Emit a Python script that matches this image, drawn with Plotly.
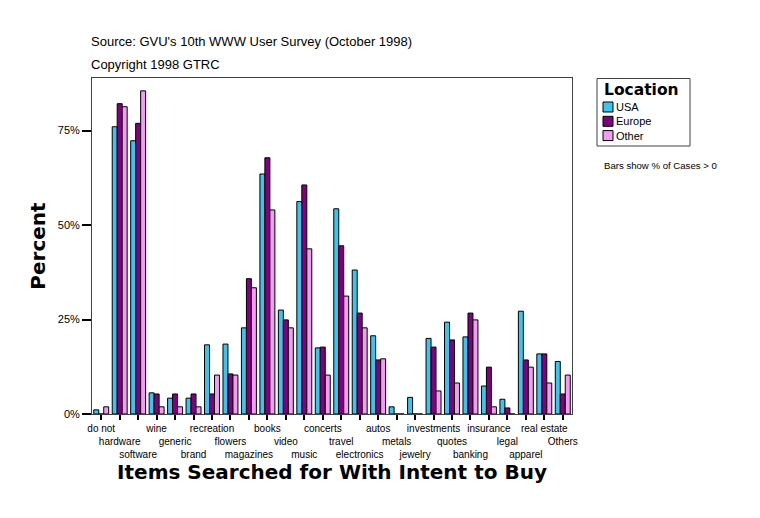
import plotly.graph_objects as go

categories = ["do not", "hardware", "software", "wine", "generic", "brand",
              "recreation", "flowers", "magazines", "books", "video", "music",
              "concerts", "travel", "electronics", "autos", "metals", "jewelry",
              "investments", "quotes", "banking", "insurance", "legal", "apparel",
              "real estate", "Others"]

usa = [1.1, 76.0, 72.3, 5.6, 4.2, 4.2, 18.3, 18.5, 22.8, 63.5, 27.5, 56.2,
       17.5, 54.3, 38.1, 20.7, 1.9, 4.4, 20.0, 24.3, 20.4, 7.4, 3.9, 27.2,
       15.9, 13.9]
europe = [0, 82.1, 76.9, 5.3, 5.3, 5.3, 5.3, 10.6, 35.8, 67.8, 24.9, 60.6,
          17.7, 44.5, 26.7, 14.3, 0, 0, 17.7, 19.6, 26.7, 12.4, 1.6, 14.3,
          15.9, 5.3]
other = [1.9, 81.3, 85.5, 1.9, 1.9, 1.9, 10.3, 10.3, 33.4, 54.0, 22.8, 43.7,
         10.3, 31.2, 22.8, 14.6, 0, 0, 6.1, 8.2, 24.9, 1.9, 0, 12.4, 8.2, 10.3]

series_names = ["USA", "Europe", "Other"]
series_colors = ["#3EC3EF", "#800080", "#F29CF2"]
y_ticks = [0, 25, 50, 75]
y_tick_text = [f"{v}%" for v in y_ticks]

# staggered three-row tick labels
tick_text = [("<br>" * (i % 3)) + c for i, c in enumerate(categories)]

# plot-area geometry in page pixels (page has an 8px body margin)
PL, PR, PT, PB = 92, 572, 78, 414
PW, PH = PR - PL, PB - PT


def px(x):
    return (x - PL) / PW


def py(y):
    return (PB - y) / PH


fig = go.Figure()
for name, vals, col in zip(series_names, [usa, europe, other], series_colors):
    fig.add_trace(go.Bar(
        x=categories, y=vals, name=name,
        marker=dict(color=col, line=dict(color="black", width=1)),
    ))

shapes = [dict(type="rect", xref="paper", yref="paper",
               x0=px(597), x1=px(690), y0=py(146), y1=py(78.5),
               line=dict(color="#404040", width=1), fillcolor="white", layer="above")]
annotations = [
    dict(text="<b>Location</b>", xref="paper", yref="paper",
         x=px(602), y=py(90), xanchor="left", yanchor="middle", showarrow=False,
         font=dict(family="DejaVu Sans", size=15.5, color="black")),
]
for i, (name, col) in enumerate(zip(series_names, series_colors)):
    yc = 107 + i * 14.3
    shapes.append(dict(type="rect", xref="paper", yref="paper",
                       x0=px(603), x1=px(613), y0=py(yc + 5), y1=py(yc - 5),
                       line=dict(color="black", width=1), fillcolor=col, layer="above"))
    annotations.append(dict(text=name, xref="paper", yref="paper",
                            x=px(614), y=py(yc), xanchor="left", yanchor="middle",
                            showarrow=False, font=dict(size=11)))

annotations += [
    dict(text="Source: GVU's 10th WWW User Survey (October 1998)",
         xref="paper", yref="paper", x=px(89), y=py(41.7),
         xanchor="left", yanchor="middle", showarrow=False, font=dict(size=13)),
    dict(text="Copyright 1998 GTRC",
         xref="paper", yref="paper", x=px(89), y=py(65),
         xanchor="left", yanchor="middle", showarrow=False, font=dict(size=13)),
    dict(text="Bars show % of Cases > 0",
         xref="paper", yref="paper", x=px(602), y=py(165),
         xanchor="left", yanchor="middle", showarrow=False, font=dict(size=9.6)),
]

fig.update_layout(
    width=760, height=518,
    margin=dict(l=PL - 8, r=760 - (PR - 8), t=PT - 8, b=518 - (PB - 8)),
    paper_bgcolor="white", plot_bgcolor="white",
    barmode="group", bargap=0.19, bargroupgap=0,
    showlegend=False,
    font=dict(family="Liberation Sans, Arial, sans-serif", color="black", size=11),
    xaxis=dict(
        type="category", range=[-0.5, len(categories) - 0.5],
        tickmode="array", tickvals=categories, ticktext=tick_text, tickangle=0,
        tickfont=dict(size=10), ticks="outside", ticklen=5, tickwidth=2,
        tickcolor="black", showline=True, linecolor="#404040", linewidth=1,
        mirror=True, showgrid=False, automargin=False,
        title=dict(text="<b>Items Searched for With Intent to Buy</b>",
                   font=dict(family="DejaVu Sans", size=20, color="black"),
                   standoff=2),
    ),
    yaxis=dict(
        range=[0, 88.9], tickmode="array", tickvals=y_ticks, ticktext=y_tick_text,
        ticks="outside", ticklen=9, tickwidth=2, tickcolor="black",
        showline=True, linecolor="#404040", linewidth=1, mirror=True,
        showgrid=False, zeroline=False, automargin=False,
        title=dict(text="<b>Percent</b>",
                   font=dict(family="DejaVu Sans", size=20, color="black"),
                   standoff=6),
    ),
    shapes=shapes,
    annotations=annotations,
)

fig.write_html("out.html")
